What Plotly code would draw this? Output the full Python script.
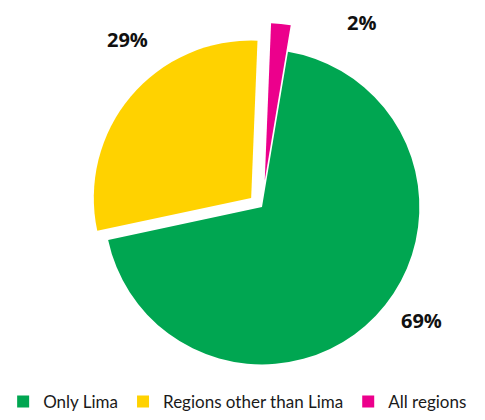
import plotly.graph_objects as go

# Survey shares by geographic scope
categories = ["Only Lima", "Regions other than Lima", "All regions"]
shares = [69, 29, 2]
colors = ["#00A651", "#FFD200", "#EC008C"]
pulls = [0, 0.09, 0.17]

W, H = 485, 420

fig = go.Figure(
    go.Pie(
        labels=categories,
        values=shares,
        sort=False,
        direction="clockwise",
        rotation=9.5,
        pull=pulls,
        marker=dict(colors=colors, line=dict(width=0)),
        textinfo="none",
        hoverinfo="label+percent",
        domain=dict(x=[77 / W, 447 / W], y=[(H - 393) / H, (H - 23) / H]),
    )
)

# Percentage labels placed beside each slice
label_pos = [(421, 322), (127, 40), (361, 23)]
for val, (px, py) in zip(shares, label_pos):
    fig.add_annotation(
        x=px / W, y=1 - py / H, xref="paper", yref="paper",
        text=f"<b>{val}%</b>", showarrow=False,
        font=dict(family="Open Sans", size=20, color="#111111"),
        xanchor="center", yanchor="middle",
    )

fig.update_layout(
    width=W, height=H,
    margin=dict(l=0, r=0, t=0, b=0),
    paper_bgcolor="white",
    plot_bgcolor="white",
    showlegend=True,
    legend=dict(
        orientation="h", x=0.49, xanchor="center", y=-0.005, yanchor="bottom",
        font=dict(family="Lato", size=17, color="#1a1a1a"),
        itemsizing="constant",
    ),
)

fig.write_html("out.html")
